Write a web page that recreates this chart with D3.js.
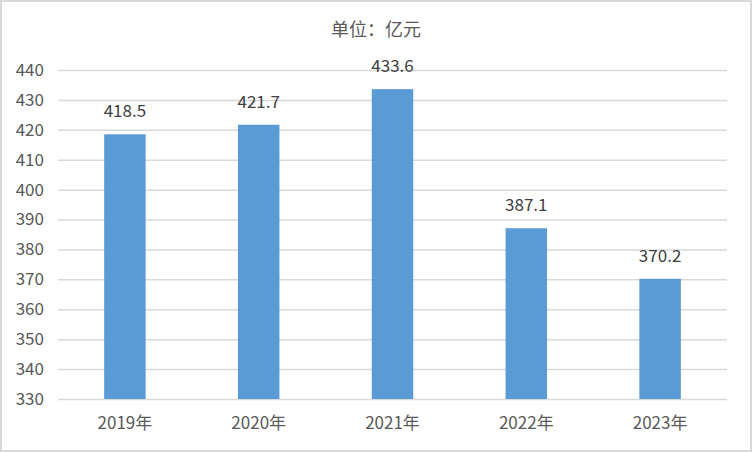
<!DOCTYPE html>
<html><head><meta charset="utf-8">
<script src="https://cdn.jsdelivr.net/npm/d3@7"></script>
<style>
html,body{margin:0;padding:0;background:#fff;}
svg{display:block;}
text{font-family:"Liberation Sans Narrow","Noto Sans CJK SC",sans-serif;}
</style></head><body>
<svg id="c" width="752" height="452"></svg>
<script>
const categories = ["2019年","2020年","2021年","2022年","2023年"];
const values = [418.5, 421.7, 433.6, 387.1, 370.2];
const yTicks = [330,340,350,360,370,380,390,400,410,420,430,440];
const title = "单位：亿元";

const svg = d3.select("#c");
const W = 752, H = 452;
svg.append("rect").attr("x",1).attr("y",1).attr("width",W-2).attr("height",H-2)
  .attr("fill","#fff").attr("stroke","#d9d9d9").attr("stroke-width",2);

const m = {l:58, r:25, t:70, b:53};
const x = d3.scaleBand().domain(categories).range([m.l, W-m.r]).paddingInner(0.69).paddingOuter(0.345);
const y = d3.scaleLinear().domain([330,440]).range([H-m.b, m.t]);

const gy = svg.append("g").attr("transform",`translate(${m.l},0)`)
  .call(d3.axisLeft(y).tickValues(yTicks).tickSize(-(W-m.l-m.r)).tickPadding(14).tickFormat(d3.format("d")));
gy.select(".domain").remove();
gy.selectAll(".tick line").attr("stroke","#d9d9d9").attr("stroke-width",1.5);
gy.selectAll(".tick text").attr("fill","#595959").attr("font-size",17);

svg.append("g").selectAll("rect").data(values).join("rect")
  .attr("x",(d,i)=>x(categories[i])).attr("width",x.bandwidth())
  .attr("y",d=>y(d)).attr("height",d=>y(330)-y(d)).attr("fill","#5b9bd5");

svg.append("g").selectAll("text").data(values).join("text")
  .attr("x",(d,i)=>x(categories[i])+x.bandwidth()/2).attr("y",d=>y(d)-17)
  .attr("text-anchor","middle").attr("fill","#404040").attr("font-size",17)
  .text(d=>d.toFixed(1));

const gx = svg.append("g").attr("transform",`translate(0,${H-m.b})`)
  .call(d3.axisBottom(x).tickSize(0).tickPadding(18));
gx.select(".domain").remove();
gx.selectAll(".tick text").attr("fill","#595959").attr("font-size",17);

svg.append("text").attr("x",W/2).attr("y",36).attr("text-anchor","middle")
  .attr("fill","#595959").attr("font-size",18).text(title);
</script>
</body></html>
